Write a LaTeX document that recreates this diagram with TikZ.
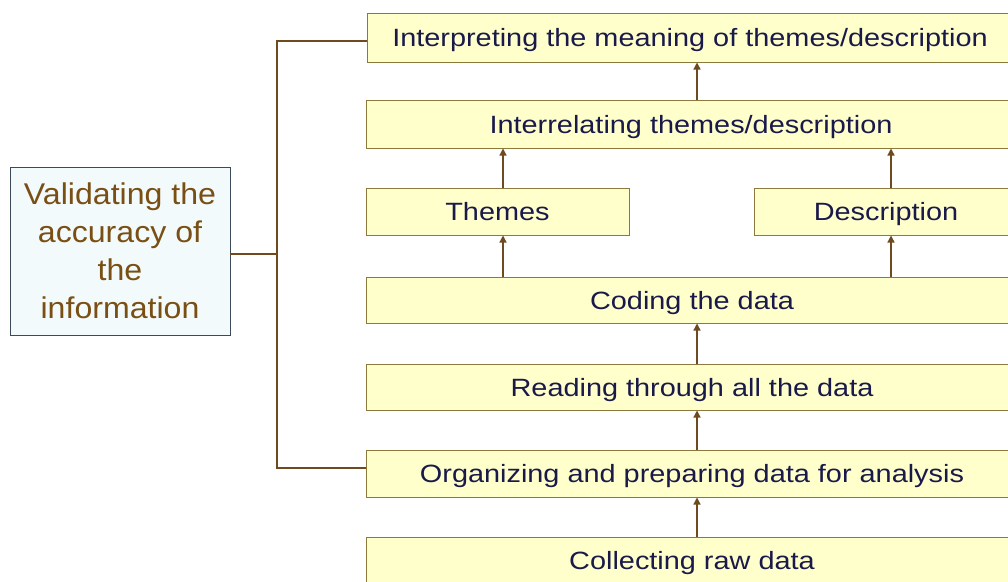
\documentclass[tikz,border=0pt]{standalone}
\usepackage{fontspec}
\setmainfont{Liberation Sans}
\newfontfamily\stepfont[FakeStretch=1.155]{Liberation Sans}
\newfontfamily\valfont[FakeStretch=1.07]{Liberation Sans}
\usetikzlibrary{arrows.meta}
\definecolor{boxfill}{HTML}{FFFFCC}
\definecolor{boxline}{HTML}{8C7A3C}
\definecolor{linkcol}{HTML}{6E4A1E}
\definecolor{txtcol}{HTML}{1A1A4A}
\definecolor{valfill}{HTML}{F2FAFC}
\definecolor{valline}{HTML}{3A4A5A}
\definecolor{valtxt}{HTML}{7A4F14}
\begin{document}
\begin{tikzpicture}[x=1pt,y=-1pt,
  steptext/.style={inner sep=0pt,text height=20pt,text depth=2pt,
    font=\stepfont\fontsize{25}{29}\selectfont,text=txtcol},
  stepbox/.style={steptext,draw=boxline,fill=boxfill,line width=1pt},
  valbox/.style={draw=valline,fill=valfill,line width=0.8pt,inner sep=0pt,
    minimum width=220pt,minimum height=168pt,align=center,
    font=\valfont\fontsize{30}{38}\selectfont,text=valtxt},
  link/.style={draw=linkcol,line width=1.3pt},
  arr/.style={link,-{Triangle[width=7pt,length=7pt]}}]
\useasboundingbox (0,0) rectangle (1008,581);
\clip (0,0) rectangle (1008,581);
\node[stepbox,minimum width=646pt,minimum height=49pt] (interp) at (690,37.5) {Interpreting the meaning of themes/description};
\node[stepbox,minimum width=650pt,minimum height=48pt] (interrel) at (691,124) {Interrelating themes/description};
\node[stepbox,minimum width=263pt,minimum height=47pt] (themes) at (497.5,211.5) {Themes};
\node[stepbox,minimum width=264pt,minimum height=47pt] (desc) at (886,211.5) {Description};
\node[stepbox,minimum width=652pt,minimum height=46pt] (coding) at (692,300) {Coding the data};
\node[stepbox,minimum width=652pt,minimum height=46pt] (reading) at (692,387) {Reading through all the data};
\node[stepbox,minimum width=652pt,minimum height=47pt] (organ) at (692,473.5) {Organizing and preparing data for analysis};
\node[stepbox,minimum width=652pt,minimum height=62pt] (collect) at (692,568) {};
\node[steptext] (collecttxt) at (692,560) {Collecting raw data};
\node[valbox] (valid) at (120,251) {Validating the\\accuracy of\\the\\information};
\coordinate (j) at (277,254);
\coordinate (jt) at (277,41);
\coordinate (jb) at (277,468);
\draw[link] (valid.east |- j) -- (j);
\draw[link] (interp.west |- jt) -- (jt) -- (jb) -- (organ.west |- jb);
\draw[arr] (interrel.north -| 697,0) -- (interp.south -| 697,0);
\draw[arr] (themes.north -| 503,0) -- (interrel.south -| 503,0);
\draw[arr] (desc.north -| 891,0) -- (interrel.south -| 891,0);
\draw[arr] (coding.north -| 503,0) -- (themes.south -| 503,0);
\draw[arr] (coding.north -| 891,0) -- (desc.south -| 891,0);
\draw[arr] (reading.north -| 697,0) -- (coding.south -| 697,0);
\draw[arr] (organ.north -| 697,0) -- (reading.south -| 697,0);
\draw[arr] (collect.north -| 697,0) -- (organ.south -| 697,0);
\end{tikzpicture}
\end{document}
